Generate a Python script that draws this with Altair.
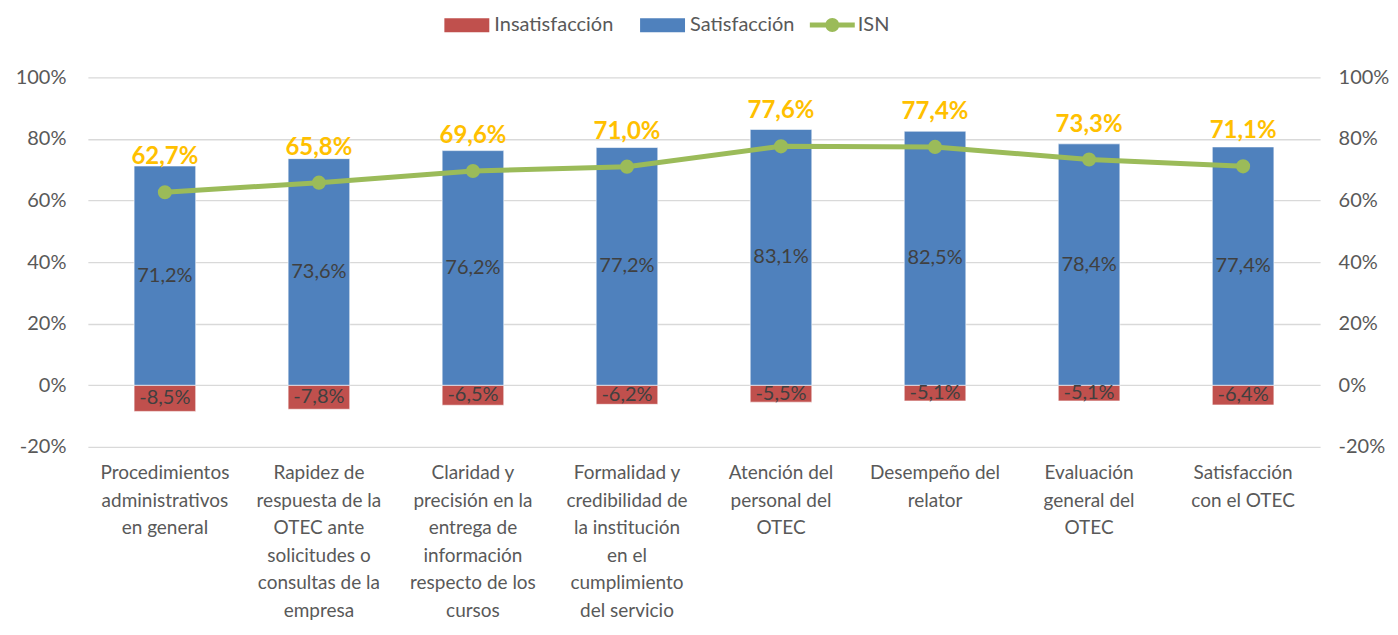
import altair as alt
import pandas as pd

categories = [
    "Procedimientos\nadministrativos\nen general",
    "Rapidez de\nrespuesta de la\nOTEC ante\nsolicitudes o\nconsultas de la\nempresa",
    "Claridad y\nprecisión en la\nentrega de\ninformación\nrespecto de los\ncursos",
    "Formalidad y\ncredibilidad de\nla institución\nen el\ncumplimiento\ndel servicio",
    "Atención del\npersonal del\nOTEC",
    "Desempeño del\nrelator",
    "Evaluación\ngeneral del\nOTEC",
    "Satisfacción\ncon el OTEC",
]
satisfaccion = [0.712, 0.736, 0.762, 0.772, 0.831, 0.825, 0.784, 0.774]
insatisfaccion = [-0.085, -0.078, -0.065, -0.062, -0.055, -0.051, -0.051, -0.064]
isn = [0.627, 0.658, 0.696, 0.710, 0.776, 0.774, 0.733, 0.711]
y_ticks = [-0.2, 0, 0.2, 0.4, 0.6, 0.8, 1.0]

RED = "#C0504D"
BLUE = "#4F81BD"
GREEN = "#9BBB59"
GOLD = "#FFC000"
GREY = "#595959"
FONT = "Lato"

wide = pd.DataFrame({"cat": categories, "sat": satisfaccion, "ins": insatisfaccion, "isn": isn})
long = pd.concat([
    pd.DataFrame({"cat": categories, "serie": "Insatisfacción", "value": insatisfaccion}),
    pd.DataFrame({"cat": categories, "serie": "Satisfacción", "value": satisfaccion}),
])
isn_df = pd.DataFrame({"cat": categories, "serie": "ISN", "value": isn})

pct_expr = "replace(datum.label, '\u2212', '-')"

x_enc = alt.X(
    "cat:N", sort=categories, title=None,
    scale=alt.Scale(paddingInner=0.6, paddingOuter=0.3),
    axis=alt.Axis(labelExpr="split(datum.label, '\\n')", labelAngle=0, labelFontSize=19,
                  labelLineHeight=27.5, labelBaseline="top", labelPadding=17, ticks=False,
                  domain=False, labelColor=GREY, labelFont=FONT, labelLimit=400),
)
yscale = alt.Scale(domain=[-0.2, 1.0], nice=False, zero=False)
left_axis = alt.Axis(format=".0%", values=y_ticks, title=None, labelExpr=pct_expr,
                     grid=True, gridColor="#D9D9D9", gridWidth=1.3, ticks=False, domain=False,
                     labelFontSize=20, labelColor=GREY, labelFont=FONT, labelPadding=22)
right_axis = alt.Axis(format=".0%", values=y_ticks, title=None, labelExpr=pct_expr,
                      grid=False, ticks=False, domain=False, orient="right",
                      labelFontSize=20, labelColor=GREY, labelFont=FONT, labelPadding=18)

bars = alt.Chart(long).mark_bar(stroke="white", strokeWidth=0.6).encode(
    x=x_enc,
    y=alt.Y("value:Q", scale=yscale, axis=left_axis, stack=None),
    color=alt.Color("serie:N", scale=alt.Scale(domain=["Insatisfacción", "Satisfacción"], range=[RED, BLUE]),
                    legend=alt.Legend(orient="none", legendX=357, legendY=-75, direction="horizontal",
                                      title=None, padding=0,
                                      symbolType="M-1,-0.31H1V0.31H-1Z", symbolSize=2025,
                                      symbolStrokeWidth=0, labelFontSize=20, labelColor=GREY,
                                      labelFont=FONT, columnPadding=26, labelOffset=5)),
)

sat_lab = alt.Chart(wide).transform_calculate(
    mid="datum.sat/2", txt="replace(format(datum.sat, '.1%'), '.', ',')"
).mark_text(fontSize=20, color="#404040", font=FONT).encode(
    x=alt.X("cat:N", sort=categories), y=alt.Y("mid:Q", scale=yscale), text="txt:N")

ins_lab = alt.Chart(wide).transform_calculate(
    mid="datum.ins/2",
    txt="replace(replace(format(datum.ins, '.1%'), '.', ','), '\u2212', '-')"
).mark_text(fontSize=20, color="#404040", font=FONT).encode(
    x=alt.X("cat:N", sort=categories), y=alt.Y("mid:Q", scale=yscale), text="txt:N")

left = alt.layer(bars, sat_lab, ins_lab)

line = alt.Chart(isn_df).mark_line(color=GREEN, strokeWidth=5).encode(
    x=alt.X("cat:N", sort=categories),
    y=alt.Y("value:Q", scale=yscale, axis=right_axis),
)
pts = alt.Chart(isn_df).mark_circle(size=200, opacity=1).encode(
    x=alt.X("cat:N", sort=categories),
    y=alt.Y("value:Q", scale=yscale),
    color=alt.Color("serie:N", scale=alt.Scale(domain=["ISN"], range=[GREEN]),
                    legend=alt.Legend(orient="none", legendX=723, legendY=-75, title=None, padding=0,
                                      symbolType="M-1,-0.11H1V0.11H-1Z M-0.31,0 A0.31,0.31 0 1,1 0.31,0 A0.31,0.31 0 1,1 -0.31,0 Z",
                                      symbolSize=2025, symbolStrokeWidth=0, labelFontSize=20,
                                      labelColor=GREY, labelFont=FONT, labelOffset=3)),
)
isn_lab = alt.Chart(isn_df).transform_calculate(
    txt="replace(format(datum.value, '.1%'), '.', ',')"
).mark_text(fontSize=24, fontWeight="bold", color=GOLD, font=FONT, dy=-35).encode(
    x=alt.X("cat:N", sort=categories), y=alt.Y("value:Q", scale=yscale), text="txt:N")

right = alt.layer(line, pts, isn_lab)

chart = alt.layer(left, right).resolve_scale(y="independent", color="independent").properties(
    width=1234, height=370,
    autosize=alt.AutoSizeParams(type="none"),
    padding={"left": 80, "top": 69, "right": 70, "bottom": 180},
).configure_view(stroke=None)

chart.save("out.html", embed_options={"renderer": "svg", "actions": False})
